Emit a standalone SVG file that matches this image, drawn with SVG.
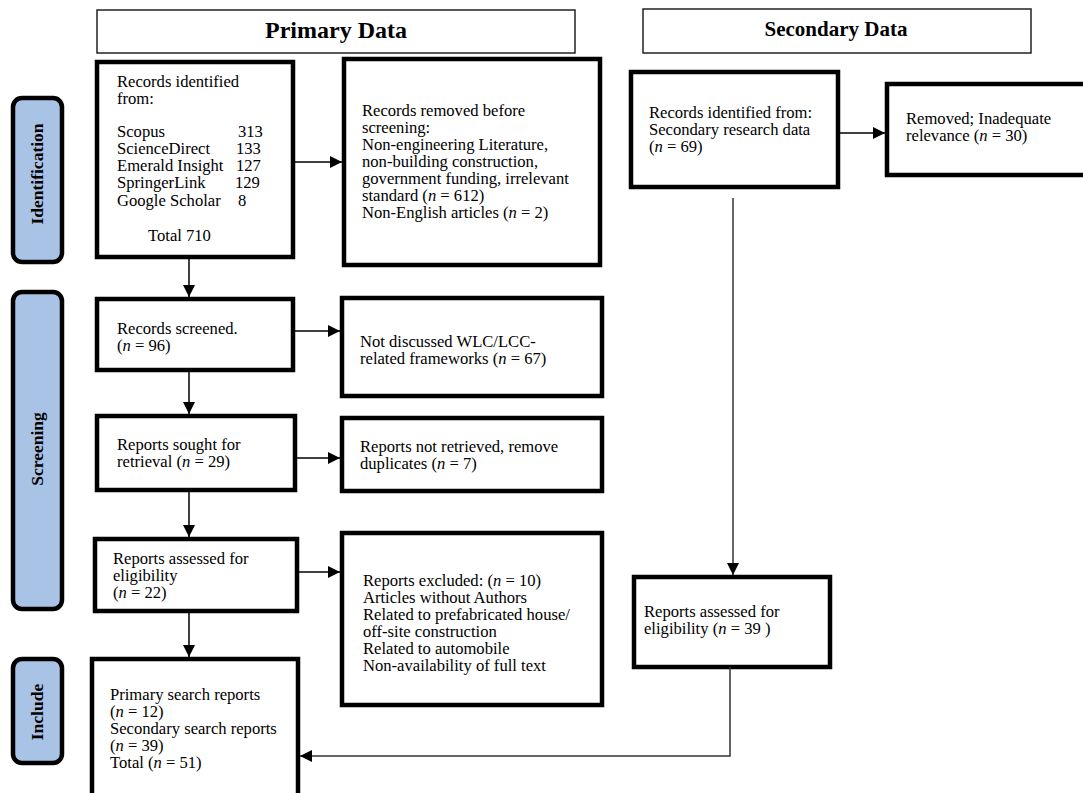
<svg xmlns="http://www.w3.org/2000/svg" width="1083" height="793" viewBox="0 0 1083 793">
<style>
.hdr{fill:#fff;stroke:#222;stroke-width:1.5}
.box{fill:#fff;stroke:#000;stroke-width:4.5}
.pill{fill:#a9c3e6;stroke:#000;stroke-width:4.5}
.t{font-family:"Liberation Serif","Times New Roman",serif;font-size:16.6px;fill:#000}
.hd{font-family:"Liberation Serif","Times New Roman",serif;font-weight:bold;fill:#000}
.side{font-family:"Liberation Serif","Times New Roman",serif;font-weight:bold;font-size:17.5px;fill:#000}
.c{fill:none;stroke:#000;stroke-width:1.5}
.c2{fill:none;stroke:#333;stroke-width:1.5}
</style>
<defs>
<marker id="ah" markerUnits="userSpaceOnUse" markerWidth="12" markerHeight="12" refX="12" refY="6" orient="auto">
<path d="M0,0 L12,6 L0,12 z" fill="#000"/>
</marker>
</defs>
<rect width="1083" height="793" fill="#fff"/>

<g id="hdr-primary">
<rect class="hdr" x="97" y="10" width="478" height="43"/>
<text class="hd" x="336" y="38" font-size="24" text-anchor="middle">Primary Data</text>
</g>
<g id="hdr-secondary">
<rect class="hdr" x="643" y="9" width="388" height="44"/>
<text class="hd" x="836" y="36" font-size="21" text-anchor="middle">Secondary Data</text>
</g>

<g id="side-identification">
<rect class="pill" x="13" y="98" width="49" height="164" rx="9"/>
<text class="side" transform="translate(43,174) rotate(-90)" text-anchor="middle">Identification</text>
</g>
<g id="side-screening">
<rect class="pill" x="13" y="292" width="49" height="317" rx="9"/>
<text class="side" transform="translate(43,449) rotate(-90)" text-anchor="middle">Screening</text>
</g>
<g id="side-include">
<rect class="pill" x="13" y="659" width="49" height="104" rx="9"/>
<text class="side" transform="translate(43,712) rotate(-90)" text-anchor="middle">Include</text>
</g>

<g id="n-records-identified">
<rect class="box" x="97" y="62" width="196" height="195"/>
<text class="t" x="117" y="87">Records identified</text>
<text class="t" x="117" y="104">from:</text>
<text class="t" x="117" y="137">Scopus</text><text class="t" x="238" y="137">313</text>
<text class="t" x="117" y="154">ScienceDirect</text><text class="t" x="236" y="154">133</text>
<text class="t" x="117" y="171">Emerald Insight</text><text class="t" x="236" y="171">127</text>
<text class="t" x="117" y="188">SpringerLink</text><text class="t" x="235" y="188">129</text>
<text class="t" x="117" y="206">Google Scholar</text><text class="t" x="238" y="206">8</text>
<text class="t" x="148" y="241">Total 710</text>
</g>

<g id="n-records-removed">
<rect class="box" x="344" y="59" width="256" height="206"/>
<text class="t" x="362" y="116">Records removed before</text>
<text class="t" x="362" y="133">screening:</text>
<text class="t" x="362" y="150">Non-engineering Literature,</text>
<text class="t" x="362" y="167">non-building construction,</text>
<text class="t" x="362" y="184">government funding, irrelevant</text>
<text class="t" x="362" y="201">standard (<tspan font-style="italic">n</tspan> = 612)</text>
<text class="t" x="362" y="218">Non-English articles (<tspan font-style="italic">n</tspan> = 2)</text>
</g>

<g id="n-secondary-identified">
<rect class="box" x="631" y="72" width="207" height="115"/>
<text class="t" x="649" y="118">Records identified from:</text>
<text class="t" x="649" y="135">Secondary research data</text>
<text class="t" x="649" y="152">(<tspan font-style="italic">n</tspan> = 69)</text>
</g>

<g id="n-secondary-removed">
<rect class="box" x="887" y="84" width="200" height="91"/>
<text class="t" x="906" y="124">Removed; Inadequate</text>
<text class="t" x="906" y="141">relevance (<tspan font-style="italic">n</tspan> = 30)</text>
</g>

<g id="n-records-screened">
<rect class="box" x="97" y="299" width="196" height="71"/>
<text class="t" x="117" y="334">Records screened.</text>
<text class="t" x="117" y="351">(<tspan font-style="italic">n</tspan> = 96)</text>
</g>

<g id="n-not-discussed">
<rect class="box" x="342" y="298" width="260" height="98"/>
<text class="t" x="360" y="347">Not discussed WLC/LCC-</text>
<text class="t" x="360" y="364">related frameworks (<tspan font-style="italic">n</tspan> = 67)</text>
</g>

<g id="n-reports-sought">
<rect class="box" x="97" y="416" width="198" height="74"/>
<text class="t" x="117" y="450">Reports sought for</text>
<text class="t" x="117" y="467">retrieval (<tspan font-style="italic">n</tspan> = 29)</text>
</g>

<g id="n-not-retrieved">
<rect class="box" x="342" y="418" width="260" height="73"/>
<text class="t" x="360" y="452">Reports not retrieved, remove</text>
<text class="t" x="360" y="469">duplicates (<tspan font-style="italic">n</tspan> = 7)</text>
</g>

<g id="n-reports-assessed">
<rect class="box" x="95" y="539" width="202" height="72"/>
<text class="t" x="113" y="564">Reports assessed for</text>
<text class="t" x="113" y="581">eligibility</text>
<text class="t" x="113" y="598">(<tspan font-style="italic">n</tspan> = 22)</text>
</g>

<g id="n-reports-excluded">
<rect class="box" x="342" y="533" width="260" height="172"/>
<text class="t" x="363" y="586">Reports excluded: (<tspan font-style="italic">n</tspan> = 10)</text>
<text class="t" x="363" y="603">Articles without Authors</text>
<text class="t" x="363" y="620">Related to prefabricated house/</text>
<text class="t" x="363" y="637">off-site construction</text>
<text class="t" x="363" y="654">Related to automobile</text>
<text class="t" x="363" y="671">Non-availability of full text</text>
</g>

<g id="n-secondary-assessed">
<rect class="box" x="634" y="577" width="196" height="90"/>
<text class="t" x="644" y="617">Reports assessed for</text>
<text class="t" x="644" y="634">eligibility (<tspan font-style="italic">n</tspan> = 39 )</text>
</g>

<g id="n-include">
<rect class="box" x="92" y="659" width="206" height="145"/>
<text class="t" x="110" y="700">Primary search reports</text>
<text class="t" x="110" y="717">(<tspan font-style="italic">n</tspan> = 12)</text>
<text class="t" x="110" y="734">Secondary search reports</text>
<text class="t" x="110" y="751">(<tspan font-style="italic">n</tspan> = 39)</text>
<text class="t" x="110" y="768">Total (<tspan font-style="italic">n</tspan> = 51)</text>
</g>

<g id="connectors">
<line class="c" x1="293" y1="162" x2="342" y2="162" marker-end="url(#ah)"/>
<line class="c" x1="838" y1="133" x2="885" y2="133" marker-end="url(#ah)"/>
<line class="c" x1="189" y1="259" x2="189" y2="297" marker-end="url(#ah)"/>
<line class="c" x1="293" y1="331" x2="340" y2="331" marker-end="url(#ah)"/>
<line class="c" x1="189" y1="372" x2="189" y2="414" marker-end="url(#ah)"/>
<line class="c" x1="295" y1="458" x2="340" y2="458" marker-end="url(#ah)"/>
<line class="c" x1="189" y1="492" x2="189" y2="537" marker-end="url(#ah)"/>
<line class="c" x1="297" y1="572" x2="340" y2="572" marker-end="url(#ah)"/>
<line class="c" x1="189" y1="613" x2="189" y2="657" marker-end="url(#ah)"/>
<line class="c2" x1="733" y1="198" x2="733" y2="575" marker-end="url(#ah)"/>
<polyline class="c2" points="730,667 730,756 300,756" marker-end="url(#ah)"/>
</g>
</svg>
